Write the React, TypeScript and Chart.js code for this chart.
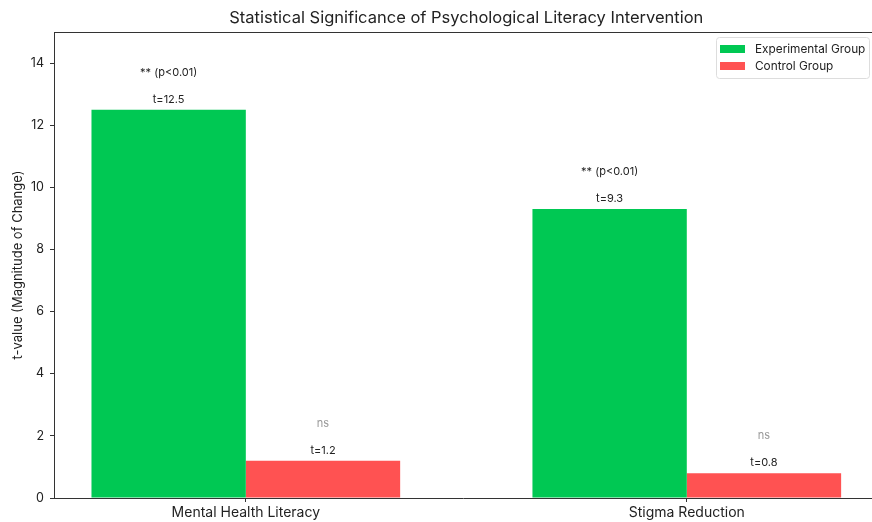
import React, { useEffect, useRef } from "react";
import { Chart, registerables } from "chart.js";

Chart.register(...registerables);

const titleText = "Statistical Significance of Psychological Literacy Intervention";
const yAxisTitle = "t-value (Magnitude of Change)";
const categories = ["Mental Health Literacy", "Stigma Reduction"];
const seriesNames = ["Experimental Group", "Control Group"];
const experimental = [12.5, 9.3];
const control = [1.2, 0.8];
const experimentalSig = ["** (p<0.01)", "** (p<0.01)"];
const controlSig = ["ns", "ns"];
const yTicks = [0, 2, 4, 6, 8, 10, 12, 14];
const yMax = 15;
const sigOffset = 1.2;

const GREEN = "#00C853";
const RED = "#FF5252";
const FONT = "Inter, Roboto, sans-serif";
const INK = "#222222";

export default function App() {
  const ref = useRef<HTMLCanvasElement | null>(null);

  useEffect(() => {
    if (!ref.current) return;
    const sigLabels = [experimentalSig, controlSig];

    const overlay = {
      id: "overlay",
      afterDraw(chart: any) {
        const ctx = chart.ctx as CanvasRenderingContext2D;
        const a = chart.chartArea;
        const yScale = chart.scales.y;
        const xScale = chart.scales.x;
        ctx.save();
        // top spine
        ctx.strokeStyle = "#333333";
        ctx.lineWidth = 1;
        ctx.beginPath();
        ctx.moveTo(a.left, Math.round(a.top) + 0.5);
        ctx.lineTo(a.right, Math.round(a.top) + 0.5);
        ctx.stroke();

        // title (centred on the full axes span, which runs past the canvas edge)
        ctx.fillStyle = INK;
        ctx.textAlign = "center";
        ctx.textBaseline = "middle";
        ctx.font = `16.5px ${FONT}`;
        ctx.fillText(titleText, xScale.getPixelForValue((categories.length - 1) / 2), 18);

        // y axis title
        ctx.save();
        ctx.translate(18, (a.top + a.bottom) / 2);
        ctx.rotate(-Math.PI / 2);
        ctx.font = `13px ${FONT}`;
        ctx.fillText(yAxisTitle, 0, 0);
        ctx.restore();

        // bar annotations
        chart.data.datasets.forEach((ds: any, di: number) => {
          const meta = chart.getDatasetMeta(di);
          meta.data.forEach((bar: any, i: number) => {
            const v = ds.data[i].y;
            ctx.font = `11px ${FONT}`;
            ctx.fillStyle = INK;
            ctx.fillText(`t=${v}`, bar.x, bar.y - 10);
            const s = sigLabels[di][i];
            ctx.fillStyle = s === "ns" ? "#999999" : INK;
            ctx.fillText(s, bar.x, yScale.getPixelForValue(v + sigOffset));
          });
        });

        // legend
        const lx = 716, ly = 37, lw = 153, lh = 41;
        ctx.fillStyle = "rgba(255,255,255,0.85)";
        ctx.strokeStyle = "#dddddd";
        ctx.lineWidth = 1;
        ctx.beginPath();
        (ctx as any).roundRect(lx + 0.5, ly + 0.5, lw, lh, 3);
        ctx.fill();
        ctx.stroke();
        ctx.textAlign = "left";
        ctx.font = `11.8px ${FONT}`;
        chart.data.datasets.forEach((ds: any, di: number) => {
          const cy = ly + 12 + di * 17;
          ctx.fillStyle = ds.backgroundColor;
          ctx.fillRect(lx + 4, cy - 4, 25, 8);
          ctx.fillStyle = INK;
          ctx.fillText(ds.label, lx + 39, cy);
        });
        ctx.restore();
      },
    };

    const chart = new Chart(ref.current, {
      type: "bar",
      data: {
        datasets: [
          {
            label: seriesNames[0],
            data: categories.map((_, i) => ({ x: i, y: experimental[i] })),
            backgroundColor: GREEN,
            borderWidth: 0,
            categoryPercentage: 0.7,
            barPercentage: 1.0,
          },
          {
            label: seriesNames[1],
            data: categories.map((_, i) => ({ x: i, y: control[i] })),
            backgroundColor: RED,
            borderWidth: 0,
            categoryPercentage: 0.7,
            barPercentage: 1.0,
          },
        ],
      } as any,
      options: {
        animation: false,
        responsive: true,
        maintainAspectRatio: false,
        layout: { padding: { left: 0, top: 32, right: 0, bottom: 0 } },
        plugins: {
          legend: { display: false },
          tooltip: { enabled: false },
          title: { display: false },
        },
        scales: {
          x: {
            type: "linear",
            offset: false,
            min: -0.435,
            max: 1.42,
            afterBuildTicks: (s: any) => {
              s.ticks = categories.map((_, i) => ({ value: i }));
            },
            afterFit: (s: any) => {
              s.height = 24;
            },
            ticks: {
              autoSkip: false,
              maxRotation: 0,
              padding: 2,
              color: INK,
              font: { family: FONT, size: 14 },
              callback: (v: any) => categories[v as number] ?? "",
            },
            grid: {
              offset: false,
              drawOnChartArea: false,
              drawTicks: true,
              tickLength: 4,
              color: "#333333",
            },
            border: { display: true, color: "#333333", width: 1 },
          },
          y: {
            min: 0,
            max: yMax,
            afterBuildTicks: (s: any) => {
              s.ticks = yTicks.map((v) => ({ value: v }));
            },
            afterFit: (s: any) => {
              s.width = 54;
            },
            ticks: {
              padding: 6,
              color: INK,
              font: { family: FONT, size: 12.5 },
            },
            grid: {
              drawOnChartArea: false,
              drawTicks: true,
              tickLength: 4,
              color: "#333333",
            },
            border: { display: true, color: "#333333", width: 1 },
          },
        },
      } as any,
      plugins: [overlay],
    });
    return () => chart.destroy();
  }, []);

  return (
    <div
      style={{
        position: "fixed",
        left: 0,
        top: 0,
        width: 872,
        height: 522,
        overflow: "hidden",
        background: "#ffffff",
      }}
    >
      <canvas ref={ref} />
    </div>
  );
}
